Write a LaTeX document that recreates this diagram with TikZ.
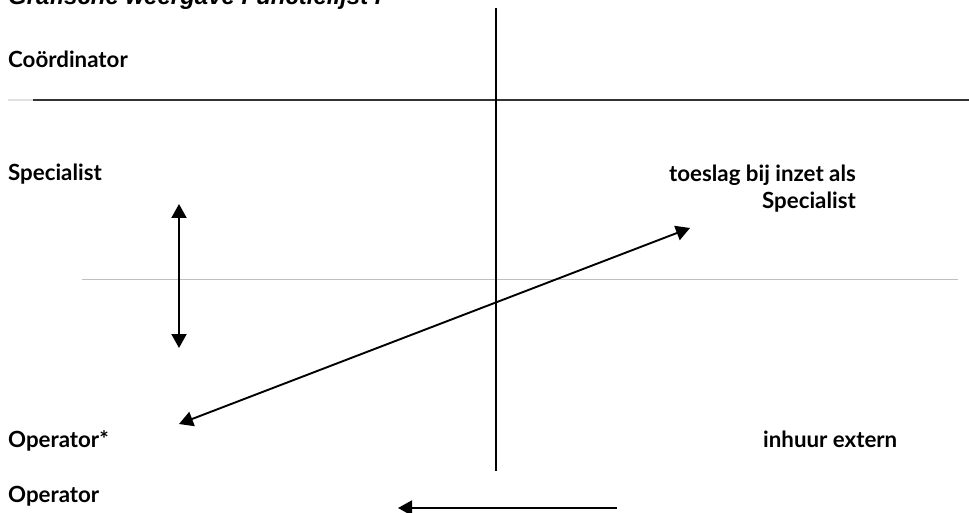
\documentclass[tikz,border=0pt]{standalone}
\usepackage{fontspec}
\setmainfont{Lato}
\newfontfamily\titlefont{Liberation Sans}
\usetikzlibrary{arrows.meta}

\begin{document}
\begin{tikzpicture}[x=1pt,y=-1pt,
    arr/.style={line width=1.9pt, -{Triangle[length=14pt,width=15pt]}},
    darr/.style={line width=1.9pt, {Triangle[length=14pt,width=15pt]}-{Triangle[length=14pt,width=15pt]}}]

      \useasboundingbox (0,0) rectangle (969,513);

      \node[anchor=base west, inner sep=0pt, font=\titlefont\bfseries\itshape\fontsize{24}{28}\selectfont] (title) at (8,5) {Grafische weergave Functielijst I};

      \begin{scope}[every node/.style={inner sep=0pt, font=\bfseries\fontsize{22.3}{27}\selectfont}]
        \node[anchor=base west] (coord) at (8,68)  {Coördinator};
        \node[anchor=base west] (spec)  at (8,181) {Specialist};
        \node[anchor=base west] (opst)  at (8,447) {Operator*};
        \node[anchor=base west] (oper)  at (8,502) {Operator};
        \node[anchor=base west] (extern) at (763,447) {inhuur extern};
        \node[anchor=north east, align=right] (toeslag) at (856,165) {toeslag bij inzet als\\Specialist};
      \end{scope}

      \coordinate (h0) at (8,100);
      \coordinate (h1) at (33,100);
      \coordinate (h2) at (969,100);
      \coordinate (m1) at (82,279);
      \coordinate (m2) at (958,279);
      \coordinate (v1) at (496,8);
      \coordinate (v2) at (496,471);
      \coordinate (up) at (179,204);
      \coordinate (down) at (179,348);
      \coordinate (diagA) at (179,424);
      \coordinate (diagB) at (690,228);
      \coordinate (bot1) at (617,508);
      \coordinate (bot2) at (398,508);

      \draw[line width=1.2pt, black!12] (h0) -- (h1);
      \draw[line width=2.2pt, black!80] (h1) -- (h2);
      \draw[line width=1pt, black!25] (m1) -- (m2);
      \draw[line width=1.8pt] (v1) -- (v2);

      \draw[darr] (up) -- (down);
      \draw[darr] (diagA) -- (diagB);
      \draw[arr] (bot1) -- (bot2);

    \end{tikzpicture}
\end{document}
